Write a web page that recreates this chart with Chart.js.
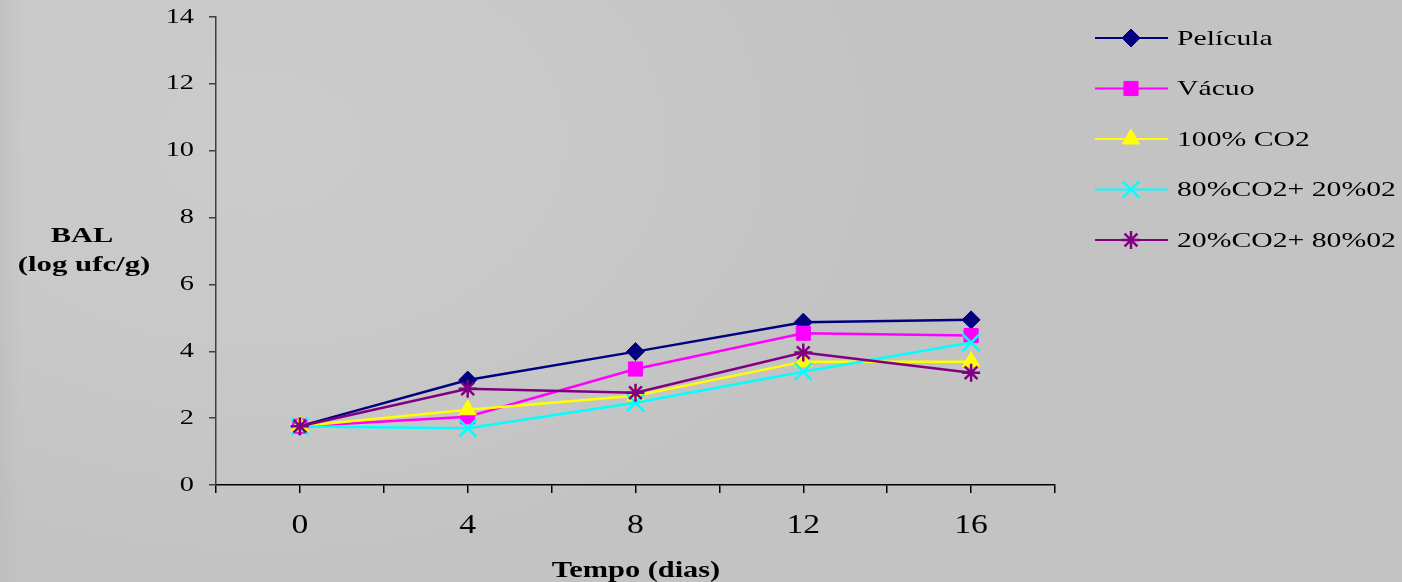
<!DOCTYPE html>
<html>
<head>
<meta charset="utf-8">
<script src="https://cdn.jsdelivr.net/npm/chart.js@4/dist/chart.umd.min.js"></script>
<style>
  html, body { margin: 0; padding: 0; }
  body {
    width: 1402px;
    height: 582px;
    overflow: hidden;
    background:
      linear-gradient(to right, rgba(180,180,180,0.35) 0, rgba(180,180,180,0) 22px),
      radial-gradient(ellipse 620px 420px at 260px 140px, #cbcbcb 0, #c9c9c9 45%, rgba(196,196,196,0) 100%),
      #c3c3c3;
  }
  canvas { display: block; }
</style>
</head>
<body>
<canvas id="bal" width="1402" height="582"></canvas>
<script>
// BAL counts (log ufc/g) per storage day and packaging
const dias = [0, 4, 8, 12, 16];
const pelicula = [1.76, 3.14, 3.99, 4.87, 4.94];
const vacuo = [1.76, 2.04, 3.47, 4.54, 4.47];
const co2_100 = [1.76, 2.25, 2.67, 3.69, 3.69];
const co2_80_o2_20 = [1.75, 1.70, 2.46, 3.39, 4.26];
const co2_20_o2_80 = [1.76, 2.88, 2.76, 3.96, 3.36];

const series = [
  { label: "Película", data: pelicula, color: "#000080", style: "rectRot", r: 9, bw: 1 },
  { label: "Vácuo", data: vacuo, color: "#ff00ff", style: "rect", r: 10, bw: 1 },
  { label: "100% CO2", data: co2_100, color: "#ffff00", style: "triangle", r: 10, bw: 1 },
  { label: "80%CO2+ 20%02", data: co2_80_o2_20, color: "#00ffff", style: "crossRot", r: 12, bw: 2.5 },
  { label: "20%CO2+ 80%02", data: co2_20_o2_80, color: "#800080", style: "star", r: 9, bw: 2.5 },
];

const serif = "'Liberation Serif', 'Times New Roman', serif";

// x ticks every 2 days, labelled every 4
const dayLabel = (v) => (v % 4 === 0 && v >= 0 && v <= 16 ? String(v) : "");

// wide text: the labels are set in a stretched Times face
function wideText(ctx, text, x, y, sx) {
  ctx.save();
  ctx.translate(x, y);
  ctx.scale(sx, 1);
  ctx.fillText(text, 0, 0);
  ctx.restore();
}

// tick labels, placed from the scales' own ticks
const tickLabels = {
  id: "tickLabels",
  afterDraw(chart) {
    const ctx = chart.ctx;
    const xs = chart.scales.x;
    const ys = chart.scales.y;
    ctx.save();
    ctx.fillStyle = "#000";
    ctx.textBaseline = "middle";
    ctx.font = "21px " + serif;
    ctx.textAlign = "right";
    ys.ticks.forEach((t) => wideText(ctx, String(t.value), ys.left + ys.width - 22, ys.getPixelForValue(t.value), 1.35));
    ctx.font = "28px " + serif;
    ctx.textAlign = "center";
    xs.ticks.forEach((t) => {
      const s = dayLabel(t.value);
      if (s) wideText(ctx, s, xs.getPixelForValue(t.value), xs.top + 41, 1.2);
    });
    ctx.restore();
  }
};

// legend: line with marker, text on the right
const sideLegend = {
  id: "sideLegend",
  afterDraw(chart) {
    const ctx = chart.ctx;
    ctx.save();
    series.forEach((s, i) => {
      const y = 38 + i * 50.5;
      ctx.strokeStyle = s.color;
      ctx.fillStyle = s.color;
      ctx.lineWidth = 2;
      ctx.beginPath();
      ctx.moveTo(1095, y);
      ctx.lineTo(1168, y);
      ctx.stroke();
      ctx.lineWidth = s.bw;
      Chart.helpers.drawPoint(ctx, { pointStyle: s.style, radius: s.r, rotation: 0, borderWidth: s.bw }, 1131, y);
      ctx.fillStyle = "#000";
      ctx.font = "22px " + serif;
      ctx.textAlign = "left";
      ctx.textBaseline = "middle";
      wideText(ctx, s.label, 1177, y + 1, 1.35);
    });
    ctx.restore();
  }
};

// axis titles (the y title is horizontal, two lines)
const axisTitles = {
  id: "axisTitles",
  afterDraw(chart) {
    const ctx = chart.ctx;
    ctx.save();
    ctx.fillStyle = "#000";
    ctx.textAlign = "center";
    ctx.textBaseline = "alphabetic";
    ctx.font = "bold 22px " + serif;
    wideText(ctx, "BAL", 82, 242, 1.38);
    wideText(ctx, "(log ufc/g)", 84, 271, 1.4);
    ctx.font = "bold 23px " + serif;
    wideText(ctx, "Tempo (dias)", 636, 577, 1.32);
    ctx.restore();
  }
};

new Chart(document.getElementById("bal"), {
  type: "line",
  data: {
    datasets: series.map((s, i) => ({
      label: s.label,
      data: dias.map((d, j) => ({ x: d, y: s.data[j] })),
      borderColor: s.color,
      backgroundColor: s.color,
      borderWidth: 2.5,
      pointStyle: s.style,
      pointRadius: s.r,
      pointBorderWidth: s.bw,
      pointBorderColor: s.color,
      pointBackgroundColor: s.color,
      tension: 0,
      fill: false,
      order: series.length - 1 - i,
    })),
  },
  options: {
    responsive: false,
    animation: false,
    layout: { padding: { top: 17, right: 347, bottom: 0, left: 0 } },
    plugins: {
      legend: { display: false },
      tooltip: { enabled: false },
    },
    scales: {
      x: {
        type: "linear",
        min: -2,
        max: 18,
        afterFit(scale) {
          scale.height = 97;
          scale.paddingLeft = 0;
          scale.paddingRight = 0;
        },
        ticks: { stepSize: 2, autoSkip: false, display: false, callback: dayLabel },
        grid: { drawOnChartArea: false, tickLength: 8, color: "#000", lineWidth: 1.5 },
        border: { color: "#000", width: 1.5 },
      },
      y: {
        min: 0,
        max: 14,
        afterFit(scale) {
          scale.width = 216;
          scale.paddingTop = 0;
          scale.paddingBottom = 0;
        },
        ticks: { stepSize: 2, display: false },
        grid: { drawOnChartArea: false, tickLength: 7, color: "#404040", lineWidth: 1.5 },
        border: { color: "#404040", width: 1.5 },
      },
    },
  },
  plugins: [tickLabels, sideLegend, axisTitles],
});
</script>
</body>
</html>
